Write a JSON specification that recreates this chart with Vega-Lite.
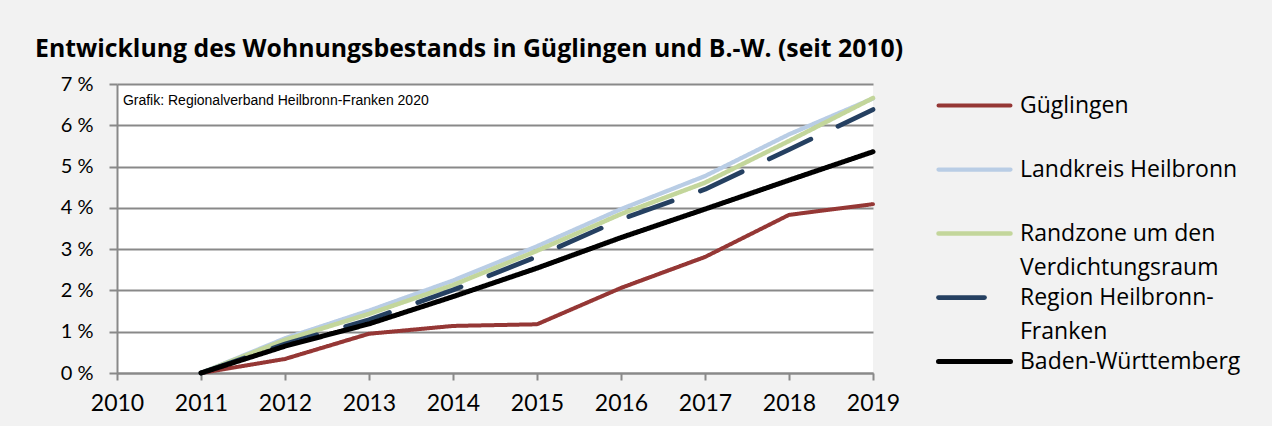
{
  "$schema": "https://vega.github.io/schema/vega-lite/v6.json",
  "autosize": "none",
  "width": 756,
  "height": 289,
  "padding": {"left": 117, "top": 84, "right": 399, "bottom": 53},
  "background": "#f2f2f2",
  "title": {
    "text": "Entwicklung des Wohnungsbestands in Güglingen und B.-W. (seit 2010)",
    "anchor": "start",
    "frame": "group",
    "dx": -82,
    "font": "Open Sans",
    "fontSize": 24.8,
    "fontWeight": "bold",
    "color": "#000000",
    "offset": 12
  },
  "config": {
    "view": {"fill": "#ffffff", "stroke": null},
    "font": "Lato"
  },
  "data": {
    "values": [
      {"series": "Güglingen", "year": 2011, "value": 0},
      {"series": "Güglingen", "year": 2012, "value": 0.34},
      {"series": "Güglingen", "year": 2013, "value": 0.95},
      {"series": "Güglingen", "year": 2014, "value": 1.14},
      {"series": "Güglingen", "year": 2015, "value": 1.18},
      {"series": "Güglingen", "year": 2016, "value": 2.06},
      {"series": "Güglingen", "year": 2017, "value": 2.81},
      {"series": "Güglingen", "year": 2018, "value": 3.83},
      {"series": "Güglingen", "year": 2019, "value": 4.09},
      {"series": "Landkreis Heilbronn", "year": 2011, "value": 0},
      {"series": "Landkreis Heilbronn", "year": 2012, "value": 0.84},
      {"series": "Landkreis Heilbronn", "year": 2013, "value": 1.51},
      {"series": "Landkreis Heilbronn", "year": 2014, "value": 2.24},
      {"series": "Landkreis Heilbronn", "year": 2015, "value": 3.07},
      {"series": "Landkreis Heilbronn", "year": 2016, "value": 3.97},
      {"series": "Landkreis Heilbronn", "year": 2017, "value": 4.77},
      {"series": "Landkreis Heilbronn", "year": 2018, "value": 5.78},
      {"series": "Landkreis Heilbronn", "year": 2019, "value": 6.65},
      {"series": "Randzone um den Verdichtungsraum", "year": 2011, "value": 0},
      {"series": "Randzone um den Verdichtungsraum", "year": 2012, "value": 0.80},
      {"series": "Randzone um den Verdichtungsraum", "year": 2013, "value": 1.43},
      {"series": "Randzone um den Verdichtungsraum", "year": 2014, "value": 2.13},
      {"series": "Randzone um den Verdichtungsraum", "year": 2015, "value": 2.96},
      {"series": "Randzone um den Verdichtungsraum", "year": 2016, "value": 3.85},
      {"series": "Randzone um den Verdichtungsraum", "year": 2017, "value": 4.61},
      {"series": "Randzone um den Verdichtungsraum", "year": 2018, "value": 5.62},
      {"series": "Randzone um den Verdichtungsraum", "year": 2019, "value": 6.66},
      {"series": "Region Heilbronn-Franken", "year": 2011, "value": 0},
      {"series": "Region Heilbronn-Franken", "year": 2012, "value": 0.70},
      {"series": "Region Heilbronn-Franken", "year": 2013, "value": 1.29},
      {"series": "Region Heilbronn-Franken", "year": 2014, "value": 2.01},
      {"series": "Region Heilbronn-Franken", "year": 2015, "value": 2.82},
      {"series": "Region Heilbronn-Franken", "year": 2016, "value": 3.72},
      {"series": "Region Heilbronn-Franken", "year": 2017, "value": 4.45},
      {"series": "Region Heilbronn-Franken", "year": 2018, "value": 5.41},
      {"series": "Region Heilbronn-Franken", "year": 2019, "value": 6.38},
      {"series": "Baden-Württemberg", "year": 2011, "value": 0},
      {"series": "Baden-Württemberg", "year": 2012, "value": 0.65},
      {"series": "Baden-Württemberg", "year": 2013, "value": 1.19},
      {"series": "Baden-Württemberg", "year": 2014, "value": 1.85},
      {"series": "Baden-Württemberg", "year": 2015, "value": 2.54},
      {"series": "Baden-Württemberg", "year": 2016, "value": 3.28},
      {"series": "Baden-Württemberg", "year": 2017, "value": 3.97},
      {"series": "Baden-Württemberg", "year": 2018, "value": 4.67},
      {"series": "Baden-Württemberg", "year": 2019, "value": 5.36}
    ]
  },
  "layer": [
    {
      "mark": {"type": "line", "strokeCap": "round", "strokeJoin": "round"},
      "encoding": {
        "x": {
          "field": "year", "type": "quantitative",
          "scale": {"domain": [2010, 2019], "nice": false, "zero": false},
          "axis": {
            "title": null, "values": [2010, 2011, 2012, 2013, 2014, 2015, 2016, 2017, 2018, 2019],
            "format": "d", "grid": false,
            "domainColor": "#898989", "domainWidth": 2,
            "tickColor": "#898989", "tickWidth": 2, "tickSize": 7,
            "labelFont": "Lato", "labelFontSize": 23, "labelColor": "#000000",
            "labelPadding": 12, "labelFlush": false
          }
        },
        "y": {
          "field": "value", "type": "quantitative",
          "scale": {"domain": [0, 7], "nice": false},
          "axis": {
            "title": null, "values": [0, 1, 2, 3, 4, 5, 6, 7],
            "labelExpr": "datum.value + ' %'",
            "grid": true, "gridColor": "#898989", "gridWidth": 2,
            "domainColor": "#898989", "domainWidth": 2,
            "tickColor": "#898989", "tickWidth": 2, "tickSize": 8,
            "labelFont": "Lato", "labelFontSize": 20, "labelColor": "#000000",
            "labelPadding": 16
          }
        },
        "color": {
          "field": "series", "type": "nominal",
          "scale": {
            "domain": ["Güglingen", "Landkreis Heilbronn", "Randzone um den Verdichtungsraum", "Region Heilbronn-Franken", "Baden-Württemberg"],
            "range": ["#953735", "#b9cde5", "#c3d69b", "#254061", "#000000"]
          },
          "legend": {
            "title": null,
            "orient": "right",
            "offset": 41,
            "padding": 10,
            "symbolType": "M0,0H8",
            "symbolSize": 324,
            "symbolStrokeWidth": 5,
            "labelFont": "Open Sans",
            "labelFontSize": 23,
            "labelColor": "#000000",
            "labelOffset": 70,
            "labelLimit": 400,
            "labelBaseline": "alphabetic",
            "rowPadding": 6,
            "labelExpr": "datum.label == 'Randzone um den Verdichtungsraum' ? ['Randzone um den', 'Verdichtungsraum'] : datum.label == 'Region Heilbronn-Franken' ? ['Region Heilbronn-', 'Franken'] : [datum.label, '']",
            "encode": {
              "labels": {"update": {"dy": {"value": 7}, "lineHeight": {"value": 34}}},
              "symbols": {"update": {
                "strokeWidth": {"value": 5},
                "strokeCap": {"value": "round"}
              }}
            }
          }
        },
        "strokeWidth": {
          "field": "series", "type": "nominal",
          "scale": {
            "domain": ["Güglingen", "Landkreis Heilbronn", "Randzone um den Verdichtungsraum", "Region Heilbronn-Franken", "Baden-Württemberg"],
            "range": [4, 5, 5, 5, 4.5]
          },
          "legend": null
        },
        "strokeDash": {
          "field": "series", "type": "nominal",
          "scale": {
            "domain": ["Güglingen", "Landkreis Heilbronn", "Randzone um den Verdichtungsraum", "Region Heilbronn-Franken", "Baden-Württemberg"],
            "range": [[1, 0], [1, 0], [1, 0], [46, 30], [1, 0]]
          },
          "legend": null
        }
      }
    },
    {
      "mark": {"type": "text", "font": "Liberation Sans", "fontSize": 14, "align": "left", "baseline": "middle", "color": "#000000"},
      "data": {"values": [{"note": "Grafik: Regionalverband Heilbronn-Franken 2020"}]},
      "encoding": {
        "text": {"field": "note"},
        "x": {"datum": 2010.07},
        "y": {"datum": 6.59}
      }
    }
  ]
}
